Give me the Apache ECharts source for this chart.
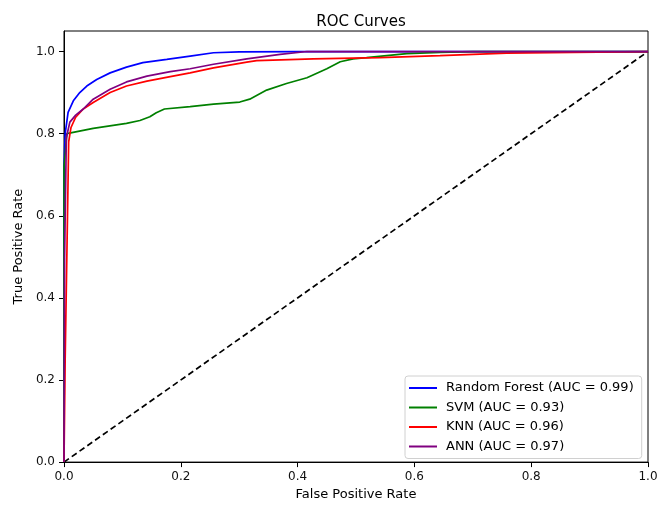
<!DOCTYPE html>
<html>
<head>
<meta charset="utf-8">
<script src="https://cdn.jsdelivr.net/npm/echarts@6/dist/echarts.min.js"></script>
<style>
	html, body { margin: 0; padding: 0; background: #fff; }
	#container { width: 667px; height: 506px; }
</style>
</head>
<body>
<div id="container"></div>
<script>
const rfFpr = [0, 0, 0.002, 0.007, 0.016, 0.027, 0.039, 0.056, 0.079, 0.107, 0.135, 0.176, 0.216, 0.256, 0.3, 0.4, 1];
const rfTpr = [0, 0.72, 0.8, 0.852, 0.88, 0.9, 0.916, 0.932, 0.948, 0.962, 0.973, 0.981, 0.989, 0.997, 0.999, 1, 1];

const svmFpr = [0, 0, 0.005, 0.05, 0.107, 0.13, 0.147, 0.158, 0.172, 0.216, 0.256, 0.301, 0.318, 0.347, 0.381, 0.416, 0.45, 0.473, 0.495, 0.518, 0.587, 0.644, 0.7, 1];
const svmTpr = [0, 0.72, 0.8, 0.813, 0.825, 0.832, 0.841, 0.851, 0.86, 0.866, 0.872, 0.877, 0.884, 0.906, 0.922, 0.936, 0.958, 0.975, 0.982, 0.985, 0.995, 0.998, 1, 1];

const knnFpr = [0, 0.002, 0.006, 0.008, 0.012, 0.02, 0.033, 0.05, 0.079, 0.107, 0.142, 0.182, 0.216, 0.256, 0.313, 0.33, 0.427, 0.541, 0.644, 0.758, 0.872, 1];
const knnTpr = [0, 0.25, 0.6, 0.78, 0.815, 0.84, 0.86, 0.876, 0.9, 0.916, 0.928, 0.939, 0.948, 0.96, 0.974, 0.978, 0.982, 0.985, 0.99, 0.996, 0.998, 1];

const annFpr = [0, 0.001, 0.004, 0.01, 0.02, 0.033, 0.05, 0.079, 0.107, 0.142, 0.182, 0.216, 0.256, 0.313, 0.37, 0.416, 1];
const annTpr = [0, 0.5, 0.79, 0.828, 0.845, 0.86, 0.884, 0.908, 0.926, 0.94, 0.951, 0.958, 0.969, 0.982, 0.993, 1, 1];

const chanceLine = [0, 1];

const modelNames = ['Random Forest (AUC = 0.99)', 'SVM (AUC = 0.93)', 'KNN (AUC = 0.96)', 'ANN (AUC = 0.97)'];
const modelColors = ['#0000ff', '#008000', '#ff0000', '#800080'];
const tickValues = [0, 0.2, 0.4, 0.6, 0.8, 1.0];

const pairs = (xs, ys) => xs.map((x, i) => [x, ys[i]]);
const curves = [pairs(rfFpr, rfTpr), pairs(svmFpr, svmTpr), pairs(knnFpr, knnTpr), pairs(annFpr, annTpr)];

const dom = document.getElementById('container');
const myChart = echarts.init(dom, null, { renderer: 'canvas' });

const font = 'DejaVu Sans';
const axisCommon = {
	type: 'value',
	nameLocation: 'middle',
	nameTextStyle: { fontFamily: font, fontSize: 13, color: '#000' },
	axisLine: { show: true, lineStyle: { color: '#000', width: 1 } },
	axisTick: { show: true, inside: false, length: 5, customValues: tickValues, lineStyle: { color: '#000', width: 1 } },
	axisLabel: { customValues: tickValues, fontFamily: font, fontSize: 12, color: '#111', margin: 9, formatter: v => v.toFixed(1) },
	splitLine: { show: false },
};

const series = modelNames.map((name, i) => ({
	name: name,
	type: 'line',
	data: curves[i],
	showSymbol: false,
	symbol: 'none',
	lineStyle: { color: modelColors[i], width: 1.7 },
	itemStyle: { color: modelColors[i] },
	z: 3,
}));
series.push({
	name: 'chance',
	type: 'line',
	data: pairs(chanceLine, chanceLine),
	showSymbol: false,
	symbol: 'none',
	lineStyle: { color: '#000', width: 1.7, type: [6, 3.5] },
	z: 2,
});

const option = {
	animation: false,
	title: {
		text: 'ROC Curves',
		left: 356,
		textAlign: 'center',
		top: 10,
		textStyle: { fontFamily: font, fontSize: 15, fontWeight: 'normal', color: '#000' },
	},
	grid: { left: 64, right: 19, top: 31, bottom: 41, show: true, borderColor: '#000', borderWidth: 1 },
	xAxis: Object.assign({}, axisCommon, { min: 0, max: 1, interval: 0.2, name: 'False Positive Rate', nameGap: 25 }),
	yAxis: Object.assign({}, axisCommon, { min: 0, max: 1.05, interval: 0.2, name: 'True Positive Rate', nameGap: 32 }),
	legend: {
		data: modelNames.map(n => ({ name: n, icon: 'rect' })),
		orient: 'vertical',
		left: 405,
		top: 376,
		width: 236,
		padding: [5, 8, 5, 4],
		itemWidth: 28,
		itemHeight: 2,
		itemGap: 5.5,
		backgroundColor: 'rgba(255,255,255,0.8)',
		borderColor: '#d0d0d0',
		borderWidth: 1,
		borderRadius: 3,
		textStyle: { fontFamily: font, fontSize: 13, color: '#000', lineHeight: 14, padding: [0, 0, 0, 4] },
	},
	series: series,
};

if (option && typeof option === 'object') {
	myChart.setOption(option);
}
</script>
</body>
</html>
